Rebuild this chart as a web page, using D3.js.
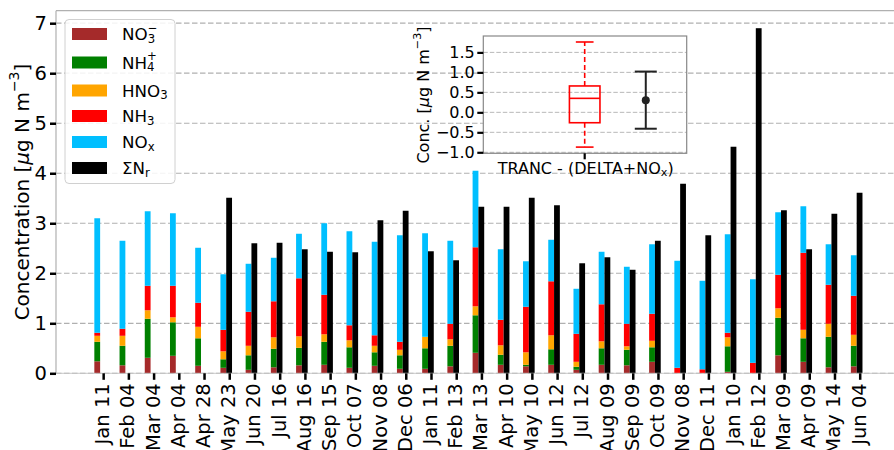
<!DOCTYPE html>
<html>
<head>
<meta charset="utf-8">
<script src="https://cdn.jsdelivr.net/npm/d3@7"></script>
<style>
  html, body { margin: 0; padding: 0; background: #fff; }
  svg { display: block; font-family: "DejaVu Sans", sans-serif; }
</style>
</head>
<body>
<svg id="chart" width="894" height="450"></svg>
<script>
// Sampling dates (month day)
const dates = ["Jan 11","Feb 04","Mar 04","Apr 04","Apr 28","May 23","Jun 20","Jul 16","Aug 16","Sep 15",
  "Oct 07","Nov 08","Dec 06","Jan 11","Feb 13","Mar 13","Apr 10","May 10","Jun 12","Jul 12",
  "Aug 09","Sep 09","Oct 09","Nov 08","Dec 11","Jan 10","Feb 12","Mar 09","Apr 09","May 14","Jun 04"];

// Component concentrations, µg N m-3
const no3  = [0.24,0.16,0.31,0.35,0.15,0.11,0.07,0.12,0.16,0.17,0.11,0.15,0.09,0.09,0.14,0.41,0.17,0.14,0.17,0.07,0.17,0.16,0.23,0,0,0.03,0,0.36,0.23,0.12,0.14];
const nh4  = [0.39,0.39,0.78,0.67,0.55,0.17,0.29,0.37,0.35,0.46,0.41,0.27,0.27,0.41,0.41,0.75,0.20,0.03,0.31,0.06,0.33,0.31,0.29,0,0,0.51,0,0.75,0.47,0.61,0.41];
const hno3 = [0.12,0.20,0.17,0.10,0.23,0.16,0.19,0.23,0.23,0.15,0.14,0.13,0.11,0.23,0.13,0.18,0.19,0.25,0.28,0.10,0.14,0.07,0.13,0,0,0.18,0,0.19,0.17,0.26,0.22];
const nh3  = [0.06,0.14,0.49,0.63,0.48,0.43,0.68,0.72,1.16,0.79,0.30,0.21,0.16,0,0.31,1.18,0.51,0.91,1.08,0.56,0.74,0.45,0.54,0.11,0.08,0.09,0.21,0.67,1.54,0.78,0.78];
const nox  = [2.29,1.76,1.49,1.45,1.10,1.11,0.96,0.87,0.89,1.43,1.88,1.87,2.13,2.07,1.66,1.53,1.41,0.91,0.83,0.90,1.05,1.14,1.39,2.14,1.77,1.97,1.67,1.25,0.93,0.81,0.81];
// Total reactive nitrogen (measured)
const sumNr = [null,null,null,null,null,3.51,2.60,2.61,2.48,2.43,2.42,3.06,3.25,2.44,2.26,3.33,3.33,3.51,3.36,2.20,2.32,2.07,2.65,3.79,2.76,4.53,6.90,3.26,2.48,3.19,3.61];

const yTicks = [0,1,2,3,4,5,6,7];

// Inset: difference statistics
const boxStats = {whiskerLow: -0.87, q1: -0.26, median: 0.35, q3: 0.66, whiskerHigh: 1.76};
const errStats = {mean: 0.30, low: -0.41, high: 1.02};
const insetTicks = [-1.0,-0.5,0.0,0.5,1.0,1.5];

const colors = {no3: "#a52a2a", nh4: "#008000", hno3: "#ffa500", nh3: "#ff0000", nox: "#00bfff", sum: "#000000"};
const keys = ["no3","nh4","hno3","nh3","nox"];
const series = {no3, nh4, hno3, nh3, nox};

const svg = d3.select("#chart");

// ---- main axes ----
const L = 56, R = 894, T = 10.7, B = 373.3;
const x = d3.scaleLinear().domain([-1.87, 31.36]).range([L, R]);
const y = d3.scaleLinear().domain([0, 7.25]).range([B, T]);
const bw = x(0.23) - x(0);

// grid
svg.append("g").selectAll("line").data(yTicks).join("line")
  .attr("x1", L).attr("x2", R).attr("y1", d => y(d)).attr("y2", d => y(d))
  .attr("stroke", "#b0b0b0").attr("stroke-width", 1.2).attr("stroke-dasharray", "5.5,2.5");

// stacked component bars
const rows = dates.map((d, i) => {
  const r = {i};
  keys.forEach(k => r[k] = series[k][i]);
  return r;
});
const stack = d3.stack().keys(keys)(rows);
const gBars = svg.append("g");
stack.forEach(layer => {
  gBars.append("g").attr("fill", colors[layer.key]).selectAll("rect").data(layer).join("rect")
    .attr("x", d => x(d.data.i - 0.35))
    .attr("width", bw)
    .attr("y", d => y(d[1]))
    .attr("height", d => Math.max(0, y(d[0]) - y(d[1])));
});
// total reactive nitrogen bars
gBars.append("g").attr("fill", colors.sum).selectAll("rect")
  .data(sumNr.map((v, i) => ({i, v})).filter(d => d.v !== null)).join("rect")
  .attr("x", d => x(d.i - 0.12))
  .attr("width", bw)
  .attr("y", d => y(d.v))
  .attr("height", d => y(0) - y(d.v));

// spines
svg.append("line").attr("x1", L).attr("x2", L).attr("y1", T).attr("y2", B).attr("stroke", "#b0b0b0").attr("stroke-width", 1.2);
svg.append("line").attr("x1", L).attr("x2", R).attr("y1", T).attr("y2", T).attr("stroke", "#b0b0b0").attr("stroke-width", 1.2);
svg.append("line").attr("x1", L).attr("x2", R).attr("y1", B).attr("y2", B).attr("stroke", "#c8c8c8").attr("stroke-width", 1);

// y axis
const yAxis = d3.axisLeft(y).tickValues(yTicks).tickFormat(d3.format("d")).tickSize(6).tickPadding(3);
const gy = svg.append("g").attr("transform", `translate(${L},0)`).call(yAxis);
gy.select(".domain").remove();
gy.selectAll(".tick line").attr("stroke", "#000").attr("stroke-width", 2.5);
gy.selectAll(".tick text").attr("font-size", 19.5).attr("font-family", "DejaVu Sans").attr("fill", "#000");

// x axis
const xAxis = d3.axisBottom(x).tickValues(d3.range(dates.length)).tickFormat(i => dates[i]).tickSize(6.5);
const gx = svg.append("g").attr("transform", `translate(0,${B})`).call(xAxis);
gx.select(".domain").remove();
gx.selectAll(".tick line").attr("stroke", "#000").attr("stroke-width", 2.5);
gx.selectAll(".tick text")
  .attr("font-size", 19.5).attr("font-family", "DejaVu Sans").attr("fill", "#000")
  .attr("text-anchor", "end").attr("dy", null).attr("y", null)
  .attr("dominant-baseline", "central")
  .attr("transform", "translate(-1,10) rotate(-90)");

// y label
const yl = svg.append("text")
  .attr("transform", "translate(22,192) rotate(-90)")
  .attr("text-anchor", "middle").attr("dominant-baseline", "central")
  .attr("font-size", 20).attr("fill", "#000");
yl.append("tspan").text("Concentration [");
yl.append("tspan").attr("font-style", "italic").text("μ");
yl.append("tspan").text("g N m");
yl.append("tspan").attr("font-size", 14).attr("dy", -8).text("−3");
yl.append("tspan").attr("dy", 8).text("]");

// ---- legend ----
const leg = svg.append("g");
leg.append("rect").attr("x", 65).attr("y", 19.5).attr("width", 110).attr("height", 164)
  .attr("rx", 4).attr("fill", "#fff").attr("fill-opacity", 0.85).attr("stroke", "#d0d0d0");
const legendItems = [
  {key: "no3", base: "NO", sub: "3", sup: "−", cy: 34},
  {key: "nh4", base: "NH", sub: "4", sup: "+", cy: 62.5},
  {key: "hno3", base: "HNO", sub: "3", cy: 90.5},
  {key: "nh3", base: "NH", sub: "3", cy: 116},
  {key: "nox", base: "NO", sub: "x", cy: 142},
  {key: "sum", base: "ΣN", sub: "r", cy: 168}
];
const fs = 16.7;
legendItems.forEach(it => {
  leg.append("rect").attr("x", 72).attr("y", it.cy - 6).attr("width", 35).attr("height", 12).attr("fill", colors[it.key]);
  const t = leg.append("text").attr("x", 122).attr("y", it.cy).attr("dominant-baseline", "central")
    .attr("font-size", fs).attr("fill", "#000");
  t.append("tspan").text(it.base);
  const sub = t.append("tspan").attr("font-size", fs * 0.7).attr("dy", 4.5).text(it.sub);
  if (it.sup) {
    const w = sub.node().getComputedTextLength();
    t.append("tspan").attr("font-size", fs * 0.7).attr("dx", -w).attr("dy", -11).text(it.sup);
  }
});

// ---- inset ----
const iL = 483.3, iR = 686.7, iT = 36, iB = 153.3;
const ix = d3.scaleLinear().domain([-0.66, 2.67]).range([iL, iR]);
const iy = d3.scaleLinear().domain([-1.025, 1.91]).range([iB, iT]);
const ins = svg.append("g");
ins.append("rect").attr("x", iL).attr("y", iT).attr("width", iR - iL).attr("height", iB - iT).attr("fill", "#fff");
ins.append("g").selectAll("line").data(insetTicks).join("line")
  .attr("x1", iL).attr("x2", iR).attr("y1", d => iy(d)).attr("y2", d => iy(d))
  .attr("stroke", "#b8b8b8").attr("stroke-width", 1).attr("stroke-dasharray", "4.5,2");
ins.append("rect").attr("x", iL).attr("y", iT).attr("width", iR - iL).attr("height", iB - iT)
  .attr("fill", "none").attr("stroke", "#888").attr("stroke-width", 1.2);

// box plot
const bx = 1, half = 0.25, capHalf = 0.145;
const red = "#ff0000";
ins.append("line").attr("x1", ix(bx)).attr("x2", ix(bx)).attr("y1", iy(boxStats.q3)).attr("y2", iy(boxStats.whiskerHigh))
  .attr("stroke", red).attr("stroke-width", 1.6).attr("stroke-dasharray", "5,3");
ins.append("line").attr("x1", ix(bx)).attr("x2", ix(bx)).attr("y1", iy(boxStats.q1)).attr("y2", iy(boxStats.whiskerLow))
  .attr("stroke", red).attr("stroke-width", 1.6).attr("stroke-dasharray", "5,3");
[boxStats.whiskerHigh, boxStats.whiskerLow].forEach(v => {
  ins.append("line").attr("x1", ix(bx - capHalf)).attr("x2", ix(bx + capHalf)).attr("y1", iy(v)).attr("y2", iy(v))
    .attr("stroke", red).attr("stroke-width", 1.6);
});
ins.append("rect").attr("x", ix(bx - half)).attr("width", ix(bx + half) - ix(bx - half))
  .attr("y", iy(boxStats.q3)).attr("height", iy(boxStats.q1) - iy(boxStats.q3))
  .attr("fill", "none").attr("stroke", red).attr("stroke-width", 1.6);
ins.append("line").attr("x1", ix(bx - half)).attr("x2", ix(bx + half)).attr("y1", iy(boxStats.median)).attr("y2", iy(boxStats.median))
  .attr("stroke", red).attr("stroke-width", 1.6);

// error bar
const ex = 2, eCap = 0.18, dark = "#222";
ins.append("line").attr("x1", ix(ex)).attr("x2", ix(ex)).attr("y1", iy(errStats.low)).attr("y2", iy(errStats.high))
  .attr("stroke", dark).attr("stroke-width", 2);
[errStats.low, errStats.high].forEach(v => {
  ins.append("line").attr("x1", ix(ex - eCap)).attr("x2", ix(ex + eCap)).attr("y1", iy(v)).attr("y2", iy(v))
    .attr("stroke", dark).attr("stroke-width", 2);
});
ins.append("circle").attr("cx", ix(ex)).attr("cy", iy(errStats.mean)).attr("r", 4).attr("fill", dark);

// inset axes
const iyAxis = d3.axisLeft(iy).tickValues(insetTicks).tickFormat(d => d3.format(".1f")(d).replace("-", "−")).tickSize(6).tickPadding(2.5);
const giy = ins.append("g").attr("transform", `translate(${iL},0)`).call(iyAxis);
giy.select(".domain").remove();
giy.selectAll(".tick line").attr("stroke", "#000").attr("stroke-width", 2.2);
giy.selectAll(".tick text").attr("font-size", 16).attr("font-family", "DejaVu Sans").attr("fill", "#000");
ins.append("line").attr("x1", ix(bx)).attr("x2", ix(bx)).attr("y1", iB).attr("y2", iB + 6).attr("stroke", "#000").attr("stroke-width", 2.2);

const ixl = ins.append("text").attr("x", ix(bx) + 1).attr("y", 168).attr("text-anchor", "middle")
  .attr("dominant-baseline", "central").attr("font-size", 16).attr("fill", "#000");
ixl.append("tspan").text("TRANC - (DELTA+NO");
ixl.append("tspan").attr("font-size", 11.2).attr("dy", 4).text("x");
ixl.append("tspan").attr("dy", -4).text(")");

const iyl = ins.append("text").attr("transform", "translate(423,95) rotate(-90)")
  .attr("text-anchor", "middle").attr("dominant-baseline", "central").attr("font-size", 16).attr("fill", "#000");
iyl.append("tspan").text("Conc. [");
iyl.append("tspan").attr("font-style", "italic").text("μ");
iyl.append("tspan").text("g N m");
iyl.append("tspan").attr("font-size", 11.2).attr("dy", -6.5).text("−3");
iyl.append("tspan").attr("dy", 6.5).text("]");
</script>
</body>
</html>
